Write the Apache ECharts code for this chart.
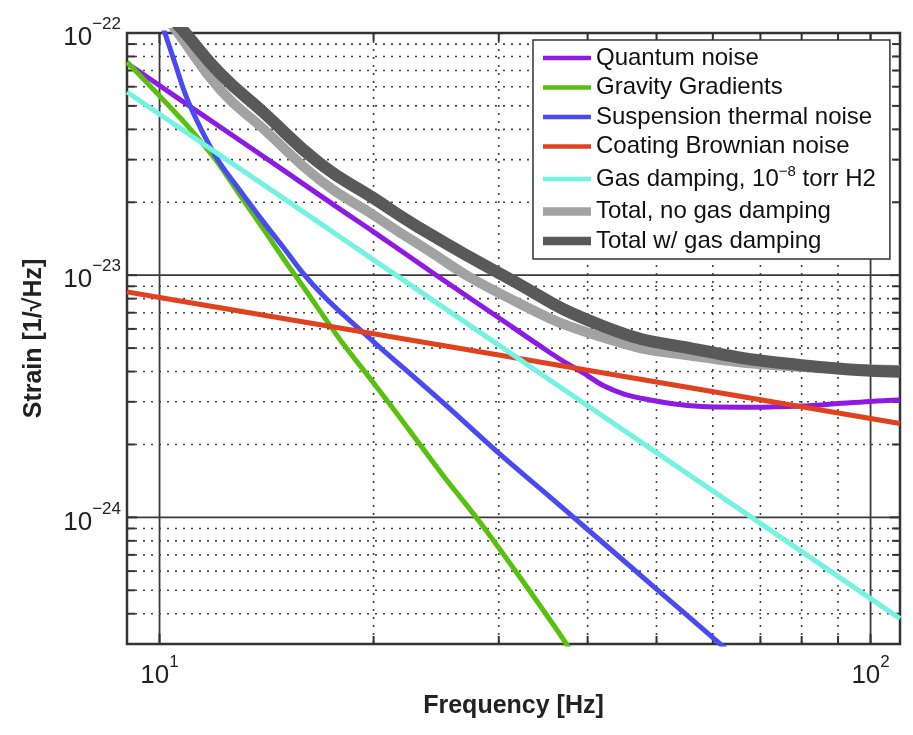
<!DOCTYPE html>
<html>
<head>
<meta charset="utf-8">
<script src="https://cdn.jsdelivr.net/npm/echarts@6/dist/echarts.min.js"></script>
<style>
html,body{margin:0;padding:0;background:#fff;}
#chart{width:913px;height:735px;}
</style>
</head>
<body>
<div id="chart"></div>
<script>
// ---------- axis ranges & ticks ----------
const xRange = [9, 110];
const yRange = [3e-25, 1e-22];
const xMajorTicks = [10, 100];
const xMinorTicks = [20, 30, 40, 50, 60, 70, 80, 90];
const yMajorTicks = [1e-24, 1e-23];
const yMinorTicks = [4e-25, 5e-25, 6e-25, 7e-25, 8e-25, 9e-25,
                     2e-24, 3e-24, 4e-24, 5e-24, 6e-24, 7e-24, 8e-24, 9e-24,
                     2e-23, 3e-23, 4e-23, 5e-23, 6e-23, 7e-23, 8e-23, 9e-23];

// ---------- series names ----------
const seriesNames = [
  'Quantum noise',
  'Gravity Gradients',
  'Suspension thermal noise',
  'Coating Brownian noise',
  'Gas damping, 10^-8 torr H2',
  'Total, no gas damping',
  'Total w/ gas damping'
];

// ---------- data (frequency [Hz], strain [1/sqrt(Hz)]) ----------
const quantumFreq = [9, 10, 11, 12, 14, 16, 18, 20, 24.5, 30, 35, 37.35, 39.5, 42, 45, 49, 53, 59, 66, 73, 80, 90, 100, 110];
const quantumVal  = [7.50e-23, 6.07e-23, 5.01e-23, 4.21e-23, 3.09e-23, 2.36e-23, 1.86e-23, 1.51e-23, 1.00e-23, 6.67e-24,
                     4.90e-24, 4.33e-24, 3.94e-24, 3.51e-24, 3.23e-24, 3.05e-24, 2.94e-24, 2.86e-24, 2.85e-24, 2.86e-24,
                     2.88e-24, 2.95e-24, 3.01e-24, 3.05e-24];

const gravityFreq = [9, 10, 11, 12, 13, 14, 15, 16, 18, 20, 22, 25, 28, 32, 37.1, 40];
const gravityVal  = [7.59e-23, 5.50e-23, 4.07e-23, 2.99e-23, 2.12e-23, 1.55e-23, 1.15e-23, 8.79e-24, 5.35e-24, 3.59e-24,
                     2.48e-24, 1.50e-24, 9.84e-25, 5.75e-25, 3.09e-25, 2.19e-25];

const suspFreq = [10, 10.5, 11, 12, 13, 14, 15, 16, 17, 18, 20, 25, 30, 35, 40, 50, 61.3, 65];
const suspVal  = [1.17e-22, 7.59e-23, 5.13e-23, 3.09e-23, 2.22e-23, 1.66e-23, 1.28e-23, 1.00e-23, 8.22e-24, 7.00e-24,
                  5.31e-24, 2.99e-24, 1.84e-24, 1.25e-24, 8.91e-25, 5.06e-25, 3.02e-25, 2.60e-25];

const coatingFreq = [9, 10, 15, 20, 30, 40, 50, 70, 100, 110];
const coatingVal  = [8.53e-24, 8.09e-24, 6.61e-24, 5.73e-24, 4.68e-24, 4.05e-24, 3.62e-24, 3.06e-24, 2.56e-24, 2.44e-24];

const gasFreq = [9, 10, 15, 20, 30, 40, 50, 70, 100, 110];
const gasVal  = [5.71e-23, 4.62e-23, 2.06e-23, 1.156e-23, 5.14e-24, 2.89e-24, 1.85e-24, 9.44e-25, 4.62e-25, 3.82e-25];

const totalNoGasFreq = [10.3, 10.62, 12.18, 14, 16.81, 20, 22.87, 30.09, 42.3, 57.45, 79.4, 110];
const totalNoGasVal  = [1.13e-22, 1.00e-22, 5.82e-23, 4.02e-23, 2.47e-23, 1.77e-23, 1.37e-23, 8.41e-24, 5.50e-24, 4.60e-24, 4.19e-24, 4.06e-24];

const totalGasFreq = [10.5, 10.87, 12.18, 14, 16.81, 20, 22.87, 30.09, 42.3, 57.45, 79.4, 110];
const totalGasVal  = [1.12e-22, 1.00e-22, 6.79e-23, 4.70e-23, 2.89e-23, 2.08e-23, 1.61e-23, 1.016e-23, 6.12e-24, 4.91e-24, 4.26e-24, 3.99e-24];

// ---------- unit handling: the y axis works in units of 1e-25 (ECharts log axis precision) ----------
const Y_UNIT = 1e-25;
const toU = v => Math.round(v / Y_UNIT * 1e9) / 1e9;
const fromU = u => u * Y_UNIT;

// ---------- styling ----------
const FONT = '"Liberation Sans", Arial, Helvetica, sans-serif';
const colors = ['#8E1BE4', '#58C10E', '#4A4AF2', '#E0421F', '#74F3E1', '#A2A2A2', '#595959'];
const widths = [5, 5, 5, 5, 5, 10, 12];

const zip = (xs, ys) => xs.map((x, i) => [x, toU(ys[i])]);
const allData = [
  zip(quantumFreq, quantumVal),
  zip(gravityFreq, gravityVal),
  zip(suspFreq, suspVal),
  zip(coatingFreq, coatingVal),
  zip(gasFreq, gasVal),
  zip(totalNoGasFreq, totalNoGasVal),
  zip(totalGasFreq, totalGasVal)
];
const smoothness = [0.4, 0.3, 0.4, 0, 0, 0.5, 0.5];

// grid lines / ticks data: [x, y, kind] kind 0 minor-x, 1 major-x, 2 minor-y, 3 major-y
const gridData = [];
xMinorTicks.forEach(v => gridData.push([v, toU(yRange[0]), 0]));
xMajorTicks.forEach(v => gridData.push([v, toU(yRange[0]), 1]));
yMinorTicks.forEach(v => gridData.push([xRange[0], toU(v), 2]));
yMajorTicks.forEach(v => gridData.push([xRange[0], toU(v), 3]));

const minorStyle = {stroke: '#444', lineWidth: 1.6, lineDash: [2, 6], fill: null};
const majorStyle = {stroke: '#3a3a3a', lineWidth: 1.8, fill: null};
const tickStyle  = {stroke: '#333', lineWidth: 2, fill: null};

function renderGrid(params, api) {
  const cs = params.coordSys;
  const kind = api.value(2);
  const x0 = cs.x, x1 = cs.x + cs.width, y0 = cs.y, y1 = cs.y + cs.height;
  const children = [];
  if (kind === 0 || kind === 1) {
    const px = api.coord([api.value(0), api.value(1)])[0];
    const major = kind === 1;
    children.push({type: 'line', shape: {x1: px, y1: y0, x2: px, y2: y1}, style: major ? majorStyle : minorStyle});
    const len = major ? 10 : 8;
    children.push({type: 'line', shape: {x1: px, y1: y1, x2: px, y2: y1 - len}, style: tickStyle});
    children.push({type: 'line', shape: {x1: px, y1: y0, x2: px, y2: y0 + len}, style: tickStyle});
  } else {
    const py = api.coord([api.value(0), api.value(1)])[1];
    const major = kind === 3;
    children.push({type: 'line', shape: {x1: x0, y1: py, x2: x1, y2: py}, style: major ? majorStyle : minorStyle});
    const len = major ? 10 : 8;
    children.push({type: 'line', shape: {x1: x0, y1: py, x2: x0 + len, y2: py}, style: tickStyle});
    children.push({type: 'line', shape: {x1: x1, y1: py, x2: x1 - len, y2: py}, style: tickStyle});
  }
  return {type: 'group', children: children};
}

function powLabelFromValue(v) {
  const l = Math.log10(v);
  const e = Math.round(l);
  if (Math.abs(l - e) > 1e-6) return '';
  const s = e < 0 ? '\u2212' + Math.abs(e) : String(e);
  return '{b|10}{s|' + s + '}';
}
const labelRich = {
  b: {fontSize: 26, fontFamily: FONT, color: '#222', lineHeight: 44, verticalAlign: 'middle'},
  s: {fontSize: 17, fontFamily: FONT, color: '#222', lineHeight: 16, verticalAlign: 'top'}
};

const thinIcon = 'path://M0,0H48V4.5H0Z';
const thickIcon = 'path://M0,0H48V8.5H0Z';

const series = [{
  type: 'custom',
  silent: true,
  renderItem: renderGrid,
  encode: {x: 0, y: 1},
  data: gridData,
  clip: false,
  z: 1
}];
seriesNames.forEach((name, i) => {
  series.push({
    type: 'line',
    name: name,
    data: allData[i],
    symbol: 'none',
    showSymbol: false,
    smooth: smoothness[i],
    silent: true,
    lineStyle: {width: widths[i], color: colors[i], cap: 'butt', join: 'round'},
    itemStyle: {color: colors[i]},
    emphasis: {disabled: true},
    z: 2
  });
});

const chart = echarts.init(document.getElementById('chart'), null, {renderer: 'canvas'});
chart.setOption({
  animation: false,
  backgroundColor: '#fff',
  grid: {
    left: 127, right: 13, top: 33, bottom: 91,
    show: true, borderColor: '#333', borderWidth: 2.5, backgroundColor: '#fff'
  },
  xAxis: {
    type: 'log', logBase: 10, min: xRange[0], max: xRange[1],
    axisLine: {show: false}, axisTick: {show: false}, splitLine: {show: false},
    axisLabel: {formatter: v => powLabelFromValue(v), rich: labelRich, margin: 10, showMinLabel: true, showMaxLabel: true},
    name: 'Frequency [Hz]', nameLocation: 'middle', nameGap: 46,
    nameTextStyle: {fontSize: 25, fontFamily: FONT, color: '#222', fontWeight: 'bold'}
  },
  yAxis: {
    type: 'log', logBase: 10, min: toU(yRange[0]), max: toU(yRange[1]),
    axisLine: {show: false}, axisTick: {show: false}, splitLine: {show: false},
    axisLabel: {formatter: v => powLabelFromValue(fromU(v)), rich: labelRich, margin: 6, padding: [10, 0, 0, 0],
                showMinLabel: true, showMaxLabel: true},
    name: 'Strain [1/\u221AHz]', nameLocation: 'middle', nameGap: 80,
    nameTextStyle: {fontSize: 25, fontFamily: FONT, color: '#222', fontWeight: 'bold'}
  },
  legend: {
    orient: 'vertical', left: 533, top: 40,
    itemWidth: 48, itemHeight: 10, itemGap: 5.5,
    padding: [6, 14, 6, 10],
    backgroundColor: '#fff', borderColor: '#333', borderWidth: 1.5,
    selectedMode: false,
    itemStyle: {borderWidth: 0},
    textStyle: {
      fontSize: 24, fontFamily: FONT, color: '#111', lineHeight: 24,
      rich: {
        t: {fontSize: 24, fontFamily: FONT, color: '#111', lineHeight: 30, verticalAlign: 'middle'},
        s: {fontSize: 15, fontFamily: FONT, color: '#111', lineHeight: 10, verticalAlign: 'top'}
      }
    },
    formatter: function (name) {
      if (name.indexOf('10^-8') >= 0) {
        return '{t|Gas damping, 10}{s|\u22128}{t| torr H2}';
      }
      return name;
    },
    data: seriesNames.map((n, i) => ({name: n, icon: i >= 5 ? thickIcon : thinIcon, itemStyle: {color: colors[i], borderWidth: 0}}))
  },
  series: series
});
</script>
</body>
</html>
